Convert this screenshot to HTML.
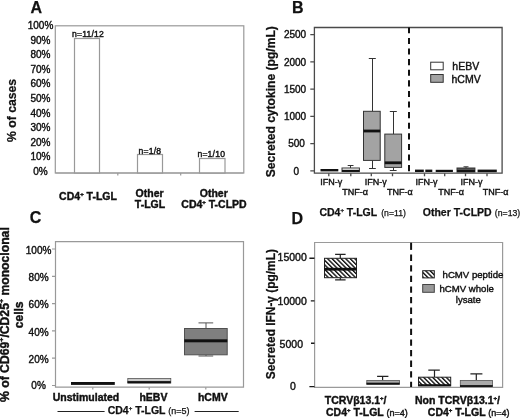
<!DOCTYPE html>
<html><head><meta charset="utf-8">
<style>
html,body{margin:0;padding:0;background:#fff;}
svg{display:block;filter:blur(0.3px);}
text{font-family:"Liberation Sans",sans-serif;fill:#111;stroke:#111;stroke-width:0.4px;}
.b{font-weight:bold;stroke-width:0.25px;}
</style></head>
<body>
<svg width="520" height="418" viewBox="0 0 520 418">
<defs>
<pattern id="hatch" patternUnits="userSpaceOnUse" width="3.2" height="10" patternTransform="rotate(-45)">
<rect x="0" y="0" width="1.4" height="10" fill="#111"/>
</pattern>
</defs>

<!-- ================= PANEL A ================= -->
<text class="b" x="30.5" y="12.5" font-size="16">A</text>
<g font-size="10" text-anchor="middle">
<text x="40.5" y="29">100%</text>
<text x="40.5" y="43.6">90%</text>
<text x="40.5" y="58.2">80%</text>
<text x="40.5" y="72.7">70%</text>
<text x="40.5" y="87.3">60%</text>
<text x="40.5" y="101.9">50%</text>
<text x="40.5" y="116.5">40%</text>
<text x="40.5" y="131.1">30%</text>
<text x="40.5" y="145.6">20%</text>
<text x="40.5" y="160.2">10%</text>
<text x="40.5" y="174.8">0%</text>
</g>
<g stroke="#999" stroke-width="1.2" fill="none">
<rect x="55.3" y="25.8" width="188.5" height="147.2"/>
<rect x="74.5" y="38.5" width="25" height="134.5" fill="#fff"/>
<rect x="137.5" y="154.5" width="25" height="18.5" fill="#fff"/>
<rect x="199.5" y="158.5" width="25.5" height="14.5" fill="#fff"/>
<line x1="55.5" y1="173" x2="243.5" y2="173" stroke-width="1.1"/>
<path d="M117.8 173V175.5M180.7 173V175.5"/>
</g>
<g font-size="8.6" letter-spacing="0.2" text-anchor="middle">
<text x="88" y="37.2">n=11/12</text>
<text x="149.9" y="153.6">n=1/8</text>
<text x="211.3" y="157.4">n=1/10</text>
</g>
<g class="b" font-size="10.5" text-anchor="middle">
<text x="88" y="200">CD4<tspan font-size="6" dy="-4">+</tspan><tspan dy="4"> T-LGL</tspan></text>
<text x="149.6" y="196.5">Other</text>
<text x="150" y="207.8">T-LGL</text>
<text x="213.8" y="196.5">Other</text>
<text x="214" y="207.8">CD4<tspan font-size="6" dy="-4">+</tspan><tspan dy="4"> T-CLPD</tspan></text>
</g>
<text class="b" font-size="12.2" text-anchor="middle" transform="translate(15.7,110.4) rotate(-90)">% of cases</text>

<!-- ================= PANEL B ================= -->
<text class="b" x="292" y="12.7" font-size="16">B</text>
<g font-size="10" text-anchor="middle">
<text x="295" y="38.3">2500</text>
<text x="295" y="65.5">2000</text>
<text x="295" y="92.7">1500</text>
<text x="295" y="120">1000</text>
<text x="296.6" y="147.2">500</text>
<text x="296.2" y="174.6">0</text>
</g>
<g stroke="#4a4a4a" stroke-width="1.3" fill="none">
<path d="M314.4 27.5 H502.1 V173.2 H314.4 Z"/>
<path d="M310.3 34.6H314.4M310.3 61.9H314.4M310.3 89.1H314.4M310.3 116.3H314.4M310.3 143.6H314.4M310.3 170.8H314.4"/>
<path d="M328.8 173.2V176.3M350.8 173.2V176.3M371.3 173.2V176.3M392.5 173.2V176.3M424.5 173.2V176.3M444.7 173.2V176.3M465.5 173.2V176.3M487 173.2V176.3"/>
</g>
<path d="M409 27.4V33.3" stroke="#111" stroke-width="2"/>
<line x1="409" y1="37.9" x2="409" y2="173" stroke="#111" stroke-width="2" stroke-dasharray="6.1 4.5"/>
<!-- boxes B -->
<g stroke="#333" stroke-width="1">
<!-- 1 -->
<rect x="320.5" y="169" width="17.8" height="2.4" fill="#111" stroke="none"/>
<!-- 2 -->
<path d="M350.5 165.5V168M347.7 165.5H353.5" fill="none"/>
<rect x="342" y="168" width="17.4" height="3.5" fill="#fff"/>
<rect x="342" y="169.8" width="17.4" height="2" fill="#111" stroke="none"/>
<!-- 3 -->
<path d="M372.5 58.5V111.3M368.8 58.5H375.8M372.5 160.4V168.5M369 168.5H375.8" fill="none"/>
<rect x="363.5" y="111.3" width="16.7" height="49.1" fill="#a3a3a3"/>
<rect x="363.5" y="129.6" width="16.7" height="2.8" fill="#111" stroke="none"/>
<!-- 4 -->
<path d="M393.5 111.5V134.1M389.8 111.5H396.8M393.5 167.4V170.5M389.8 170.5H396.6" fill="none"/>
<rect x="384.8" y="134.1" width="16.8" height="33.3" fill="#a3a3a3"/>
<rect x="384.8" y="161.4" width="16.8" height="2.8" fill="#111" stroke="none"/>
<!-- 5 -->
<rect x="415" y="169.6" width="8.8" height="2.4" fill="#111" stroke="none"/>
<rect x="425.3" y="169.6" width="7" height="2.4" fill="#111" stroke="none"/>
<!-- 6 -->
<rect x="435.7" y="169.8" width="17.2" height="2.2" fill="#111" stroke="none"/>
<!-- 7 -->
<path d="M466 166.8V168M463.5 166.8H468.5" fill="none"/>
<rect x="457" y="168" width="17.9" height="4" fill="#555"/>
<rect x="457" y="170" width="17.9" height="2" fill="#111" stroke="none"/>
<!-- 8 -->
<rect x="477.6" y="169.6" width="19.2" height="2.6" fill="#111" stroke="none"/>
</g>
<!-- legend B -->
<rect x="430.7" y="62.2" width="12.5" height="7.6" fill="#fff" stroke="#333" stroke-width="1"/>
<rect x="430.7" y="74.5" width="12.5" height="7.8" fill="#a3a3a3" stroke="#333" stroke-width="1"/>
<g font-size="10.5">
<text x="452.3" y="70.2">hEBV</text>
<text x="451.5" y="82.7">hCMV</text>
</g>
<g font-size="9">
<text x="320.3" y="184.6">IFN-γ</text>
<text x="342.3" y="195">TNF-α</text>
<text x="364.8" y="184.6">IFN-γ</text>
<text x="387" y="195">TNF-α</text>
<text x="415.6" y="184.6">IFN-γ</text>
<text x="438.2" y="195">TNF-α</text>
<text x="460.5" y="184.6">IFN-γ</text>
<text x="482.8" y="195">TNF-α</text>
</g>
<text class="b" x="319.4" y="216" font-size="10.5">CD4<tspan font-size="6" dy="-4">+</tspan><tspan dy="4"> T-LGL </tspan><tspan font-weight="normal" font-size="8.7" dx="1.3">(n=11)</tspan></text>
<text class="b" x="422.8" y="215.6" font-size="10.5">Other T-CLPD <tspan font-weight="normal" font-size="8.7" dx="0.3">(n=13)</tspan></text>
<text class="b" font-size="12.1" text-anchor="middle" transform="translate(274.7,101.7) rotate(-90)">Secreted cytokine (pg/mL)</text>

<!-- ================= PANEL C ================= -->
<text class="b" x="29.8" y="223.3" font-size="16">C</text>
<g font-size="10" text-anchor="middle">
<text x="38.6" y="253.6">100%</text>
<text x="38.6" y="280.9">80%</text>
<text x="38.6" y="308.2">60%</text>
<text x="38.6" y="335.5">40%</text>
<text x="38.6" y="362.8">20%</text>
<text x="38.6" y="389.1">0%</text>
</g>
<g stroke="#999" stroke-width="1.2" fill="none">
<path d="M55.5 241.6H243.5V387.2H55.5Z"/>
<path d="M52 249H55.5M52 276.3H55.5M52 303.6H55.5M52 330.9H55.5M52 358.2H55.5M52 385.5H55.5"/>
<path d="M92.8 387.2V389.5M149.2 387.2V389.5M205.8 387.2V389.5"/>
</g>
<!-- boxes C -->
<rect x="71" y="382" width="43.8" height="2.9" fill="#111"/>
<rect x="127.8" y="378.5" width="43" height="4.5" fill="#c9c9c9" stroke="#555" stroke-width="0.8"/>
<rect x="127.5" y="381.1" width="43.3" height="2.2" fill="#111"/>
<g stroke="#555" stroke-width="1" fill="none">
<path d="M206 322.9V328.5M198.5 322.9H213.2M206 354.8V356M198.5 356H213.2"/>
</g>
<rect x="184.5" y="328.5" width="42.7" height="26.3" fill="#7f7f7f" stroke="#505050" stroke-width="1"/>
<rect x="184.3" y="339.3" width="43" height="3" fill="#111"/>
<g class="b" font-size="10.5" text-anchor="middle">
<text x="86" y="400.5">Unstimulated</text>
<text x="153.4" y="400.5">hEBV</text>
<text x="212.8" y="400.5">hCMV</text>
</g>
<line x1="57.5" y1="411.5" x2="104.6" y2="411.5" stroke="#222" stroke-width="1"/>
<line x1="194.6" y1="411.5" x2="238.7" y2="411.5" stroke="#222" stroke-width="1"/>
<text class="b" x="107.7" y="414.2" font-size="10.5">CD4<tspan font-size="6" dy="-4">+</tspan><tspan dy="4"> T-LGL </tspan><tspan font-weight="normal" font-size="9">(n=5)</tspan></text>
<g class="b" text-anchor="middle">
<text font-size="12.2" transform="translate(8.8,314.6) rotate(-90)">% of CD69<tspan font-size="7" dy="-5">+</tspan><tspan dy="5">/CD25</tspan><tspan font-size="7" dy="-5">+</tspan><tspan dy="5"> monoclonal</tspan></text>
<text font-size="12" transform="translate(23.1,314.8) rotate(-90)">cells</text>
</g>

<!-- ================= PANEL D ================= -->
<text class="b" x="291.5" y="224" font-size="16">D</text>
<g font-size="10.5" text-anchor="middle">
<text x="292.2" y="261.2">15000</text>
<text x="292.2" y="304.8">10000</text>
<text x="291.3" y="348.2">5000</text>
<text x="293" y="389.8">0</text>
</g>
<g stroke="#9a9a9a" stroke-width="1.2" fill="none">
<path d="M314.6 242.5H502.6V387.3H314.6Z"/>
</g>
<g stroke="#1a1a1a" stroke-width="1.4" fill="none">
<path d="M309.4 258.3H314.5M310.8 300.9H314.5M311 343.3H314.5M309.4 386.6H314.5"/>
</g>
<path d="M411.1 242.7V249.9" stroke="#111" stroke-width="2"/>
<line x1="411.1" y1="254.6" x2="411.1" y2="387" stroke="#111" stroke-width="2" stroke-dasharray="6.3 4.3"/>
<!-- boxes D -->
<g stroke="#222" stroke-width="1.2" fill="none">
<path d="M340.3 254.3V258.1M335.1 254.3H345.6M340.3 277.8V279.9M335.1 279.9H345.6"/>
<path d="M382.6 376.3V380.2M377.1 376.3H388.4"/>
<path d="M434.5 370.1V376.9M428.3 370.1H439.8"/>
<path d="M476.3 373.8V380.2M470.4 373.8H482.4"/>
</g>
<rect x="324.5" y="258.3" width="32" height="19.4" fill="url(#hatch)" stroke="#222" stroke-width="1"/>
<rect x="324" y="267.8" width="32.6" height="2.8" fill="#111"/>
<rect x="366.8" y="380.4" width="32.8" height="4" fill="#aaa" stroke="#555" stroke-width="0.8"/>
<rect x="366.5" y="382.7" width="33.1" height="1.8" fill="#111"/>
<rect x="418.5" y="377.2" width="32.2" height="8.6" fill="url(#hatch)" stroke="#222" stroke-width="1"/>
<rect x="418.2" y="384.2" width="32.7" height="2" fill="#111"/>
<rect x="460.3" y="380.4" width="32.2" height="6" fill="#aaa" stroke="#555" stroke-width="0.8"/>
<rect x="460" y="385.1" width="32.7" height="1.8" fill="#111"/>
<!-- legend D -->
<rect x="422.7" y="270.7" width="11.6" height="7.2" fill="url(#hatch)" stroke="#222" stroke-width="1"/>
<rect x="422.7" y="284.5" width="11.6" height="7.8" fill="#999" stroke="#444" stroke-width="1"/>
<g font-size="9.6">
<text x="442.6" y="277.5">hCMV peptide</text>
<text x="439.5" y="292">hCMV whole</text>
<text x="455.8" y="302.6">lysate</text>
</g>
<g class="b" font-size="10.5">
<text x="324.8" y="403.8">TCRVβ13.1<tspan font-size="6" dy="-4">+</tspan><tspan dy="4">/</tspan></text>
<text x="326" y="415.5">CD4<tspan font-size="6" dy="-4">+</tspan><tspan dy="4"> T-LGL </tspan><tspan font-weight="normal" font-size="9">(n=4)</tspan></text>
<text x="415" y="403.8">Non TCRVβ13.1<tspan font-size="6" dy="-4">+</tspan><tspan dy="4">/</tspan></text>
<text x="427.8" y="415.8">CD4<tspan font-size="6" dy="-4">+</tspan><tspan dy="4"> T-LGL </tspan><tspan font-weight="normal" font-size="9">(n=4)</tspan></text>
</g>
<text class="b" font-size="11.9" text-anchor="middle" transform="translate(274.7,314.2) rotate(-90)">Secreted IFN-γ (pg/mL)</text>
</svg>
</body></html>
